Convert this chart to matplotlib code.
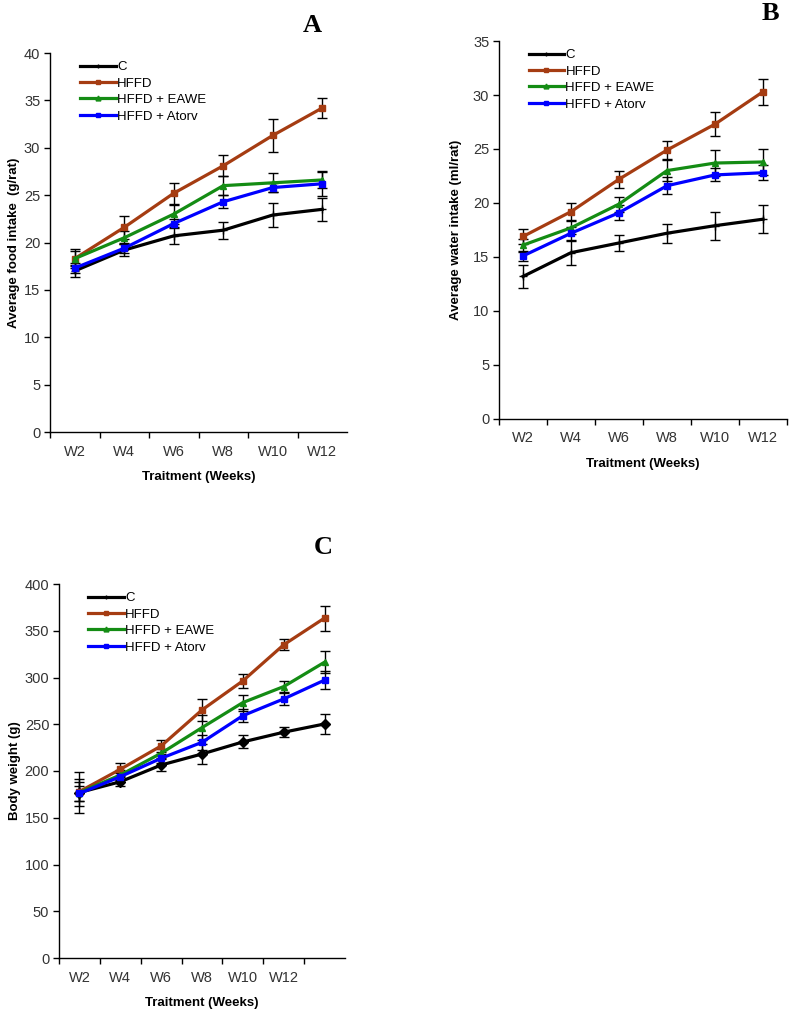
import matplotlib
matplotlib.use("Agg")
import matplotlib.pyplot as plt
from matplotlib.lines import Line2D
import numpy as np

plt.rcParams["font.family"] = ["Liberation Sans", "DejaVu Sans"]

groups = ["C", "HFFD", "HFFD + EAWE", "HFFD + Atorv"]
colors = ["#000000", "#A53C12", "#148C14", "#0000FF"]

weeks_ab = ["W2", "W4", "W6", "W8", "W10", "W12"]
weeks_c = ["W2", "W4", "W6", "W8", "W10", "W12", ""]

# panel A: average food intake (g/rat)
food_c = [17.0, 19.2, 20.7, 21.3, 22.9, 23.5]
food_hffd = [18.3, 21.6, 25.2, 28.1, 31.3, 34.2]
food_eawe = [18.3, 20.5, 23.0, 26.0, 26.3, 26.6]
food_atorv = [17.3, 19.4, 22.0, 24.3, 25.8, 26.2]
food_c_err = [0.6, 0.6, 0.9, 0.9, 1.3, 1.2]
food_hffd_err = [1.0, 1.2, 1.1, 1.1, 1.7, 1.1]
food_eawe_err = [0.8, 0.7, 1.0, 1.0, 1.0, 0.8]
food_atorv_err = [0.5, 0.5, 0.5, 0.7, 0.5, 1.3]

# panel B: average water intake (ml/rat)
water_c = [13.2, 15.4, 16.3, 17.2, 17.9, 18.5]
water_hffd = [16.9, 19.2, 22.2, 24.9, 27.3, 30.3]
water_eawe = [16.1, 17.7, 19.9, 23.0, 23.7, 23.8]
water_atorv = [15.1, 17.2, 19.1, 21.6, 22.6, 22.8]
water_c_err = [1.1, 1.1, 0.7, 0.9, 1.3, 1.3]
water_hffd_err = [0.7, 0.8, 0.8, 0.8, 1.1, 1.2]
water_eawe_err = [0.6, 0.6, 0.7, 1.0, 1.2, 1.2]
water_atorv_err = [0.5, 0.6, 0.7, 0.8, 0.6, 0.7]

# panel C: body weight (g)
bw_c = [177, 188.5, 206.4, 218.2, 231.1, 241.5, 250.3]
bw_hffd = [178, 201.8, 226.8, 265.3, 296.4, 335.0, 363.6]
bw_eawe = [177, 195.7, 219.0, 246.4, 273.2, 290.3, 316.4]
bw_atorv = [176, 193.9, 213.6, 230.7, 259.2, 277.1, 297.2]
bw_c_err = [22, 5, 6.6, 10.7, 7, 5.4, 11]
bw_hffd_err = [10, 6.8, 6.6, 11.6, 7.3, 5.9, 13.4]
bw_eawe_err = [14, 5, 5, 13, 8.6, 6.2, 11.6]
bw_atorv_err = [8, 4, 5, 8, 6.8, 6.8, 9.5]

W, H = 789, 1011
fig = plt.figure(figsize=(W / 100, H / 100), dpi=100)


def px_axes(left, top, right, bottom):
    return fig.add_axes([left / W, 1 - bottom / H, (right - left) / W, (bottom - top) / H])


def draw_panel(ax, labels, series, errs, ylim, ystep, ylabel, c_marker, end_tick, ypad):
    n = len(labels)
    x = np.arange(len(series[0]))
    markers = [c_marker, "s", "^", "s"]
    msizes = [5 if c_marker == "D" else 6, 4, 4, 5]
    handles = []
    for vals, err, col, mk, ms, lab in zip(series, errs, colors, markers, msizes, groups):
        ax.errorbar(x, vals, yerr=err, color=col, lw=2.3, marker=mk, ms=ms,
                    mew=1, mec=col, mfc=col, ecolor="black", elinewidth=1,
                    capsize=3.5, capthick=1, zorder=3)
        lmk = "+" if mk in ("+", "D") else mk
        handles.append(Line2D([], [], color=col, lw=2.3, marker=lmk, ms=3.5,
                              mec=col, mfc=col, label=lab))
    ax.set_xlim(-0.5, n - 0.5)
    ax.set_ylim(*ylim)
    ax.set_yticks(np.arange(ylim[0], ylim[1] + ystep / 2, ystep))
    ax.set_xticks(np.arange(n))
    ax.set_xticklabels(labels)
    bounds = np.arange(-0.5, n - 0.5 + (0.1 if end_tick else -0.1), 1.0)
    ax.set_xticks(bounds, minor=True)
    ax.tick_params(axis="x", which="major", length=0, pad=9, labelsize=10.5, labelcolor="#333333")
    ax.tick_params(axis="x", which="minor", length=4, direction="out", width=1)
    ax.tick_params(axis="y", length=4, direction="out", width=1, labelsize=10.5,
                   labelcolor="#333333", pad=3)
    for s in ["top", "right"]:
        ax.spines[s].set_visible(False)
    for s in ["left", "bottom"]:
        ax.spines[s].set_linewidth(1)
    ax.set_ylabel(ylabel, fontsize=9.5, fontweight="bold", labelpad=ypad)
    ax.set_xlabel("Traitment (Weeks)", fontsize=9.5, fontweight="bold", labelpad=9)
    ax.legend(handles=handles, loc="upper left", bbox_to_anchor=(0.075, 1.0), frameon=False,
              fontsize=9.5, handlelength=2.7, handletextpad=0.1, labelspacing=0.32,
              borderaxespad=0.2)


axA = px_axes(50, 53, 347, 432)
draw_panel(axA, weeks_ab, [food_c, food_hffd, food_eawe, food_atorv],
           [food_c_err, food_hffd_err, food_eawe_err, food_atorv_err],
           (0, 40), 5, "Average food intake  (g/rat)", "+", False, 3)

axB = px_axes(499, 41, 787, 419)
draw_panel(axB, weeks_ab, [water_c, water_hffd, water_eawe, water_atorv],
           [water_c_err, water_hffd_err, water_eawe_err, water_atorv_err],
           (0, 35), 5, "Average water intake (ml/rat)", "+", True, 8)

axC = px_axes(59, 584, 345, 958)
draw_panel(axC, weeks_c, [bw_c, bw_hffd, bw_eawe, bw_atorv],
           [bw_c_err, bw_hffd_err, bw_eawe_err, bw_atorv_err],
           (0, 400), 50, "Body weight (g)", "D", False, 2.5)

for lab, (px, py) in zip(["A", "B", "C"], [(312, 25), (770, 14), (323, 548)]):
    fig.text(px / W, 1 - py / H, lab, family=["Liberation Serif", "DejaVu Serif"],
             fontsize=19, fontweight="bold", ha="center", va="center")

fig.savefig("out.png", dpi=100)
